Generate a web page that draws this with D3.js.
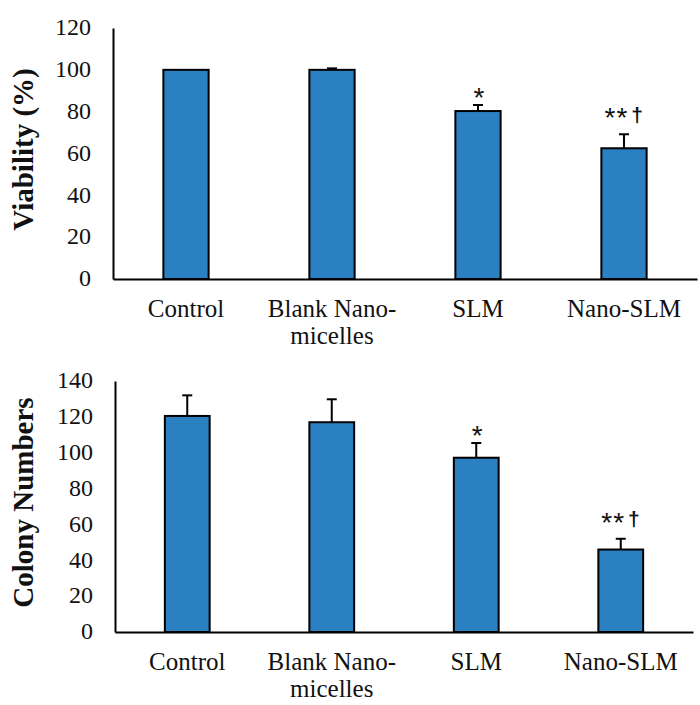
<!DOCTYPE html>
<html>
<head>
<meta charset="utf-8">
<script src="https://cdn.jsdelivr.net/npm/d3@7"></script>
<style>
  html, body { margin: 0; padding: 0; background: #fff; }
  svg { display: block; }
</style>
</head>
<body>
<svg id="chart" width="700" height="705"></svg>
<script>
// ---- data ----
const categories = ["Control", "Blank Nano-micelles", "SLM", "Nano-SLM"];
const tickLabelLines = [["Control"], ["Blank Nano-", "micelles"], ["SLM"], ["Nano-SLM"]];

const viabilityValues = [100, 100, 80.3, 62.5];
const viabilityErrors = [0, 0.7, 2.9, 6.7];
const viabilityMarks = ["", "", "*", "**†"];
const viabilityTicks = [0, 20, 40, 60, 80, 100, 120];

const colonyValues = [120.5, 117, 97.2, 46];
const colonyErrors = [11.5, 12.8, 8.2, 6];
const colonyMarks = ["", "", "*", "**†"];
const colonyTicks = [0, 20, 40, 60, 80, 100, 120, 140];

const panels = [
  { title: "Viability (%)", values: viabilityValues, errors: viabilityErrors, marks: viabilityMarks,
    ticks: viabilityTicks, max: 120, x0: 113, x1: 697, yTop: 28, yBottom: 279 },
  { title: "Colony Numbers", values: colonyValues, errors: colonyErrors, marks: colonyMarks,
    ticks: colonyTicks, max: 140, x0: 115, x1: 693, yTop: 381, yBottom: 632 }
];

const svg = d3.select("#chart");
const barColor = "#2a80c1";
const serif = "'Liberation Serif', 'Times New Roman', serif";
const sans = "'Liberation Sans', Arial, sans-serif";

panels.forEach(p => {
  const x = d3.scaleBand().domain(categories).range([p.x0, p.x1])
    .paddingInner(0.69).paddingOuter(0.345);
  const y = d3.scaleLinear().domain([0, p.max]).range([p.yBottom, p.yTop]);
  const g = svg.append("g");
  const cx = d => x(d) + x.bandwidth() / 2;
  const topOf = i => y(p.values[i] + p.errors[i]);

  // bars
  g.selectAll("rect.bar").data(categories).enter().append("rect")
    .attr("class", "bar")
    .attr("x", d => x(d))
    .attr("width", x.bandwidth())
    .attr("y", (d, i) => y(p.values[i]))
    .attr("height", (d, i) => y(0) - y(p.values[i]))
    .attr("fill", barColor)
    .attr("stroke", "#000")
    .attr("stroke-width", 2);

  // error bars (upper only)
  categories.forEach((d, i) => {
    if (!(p.errors[i] > 0)) return;
    g.append("line")
      .attr("x1", cx(d)).attr("x2", cx(d))
      .attr("y1", y(p.values[i])).attr("y2", topOf(i))
      .attr("stroke", "#000").attr("stroke-width", 2);
    g.append("line")
      .attr("x1", cx(d) - 5).attr("x2", cx(d) + 5)
      .attr("y1", topOf(i)).attr("y2", topOf(i))
      .attr("stroke", "#000").attr("stroke-width", 2);
  });

  // significance marks
  categories.forEach((d, i) => {
    const m = p.marks[i];
    if (!m) return;
    const chars = Array.from(m);
    const adv = chars.map(c => c === "†" ? 18 : 12);
    const total = d3.sum(adv);
    const hasDagger = m.includes("†");
    const base = topOf(i) + (hasDagger ? -7 : 2);
    let off = -total / 2 + 1;
    chars.forEach((c, k) => {
      const center = off + adv[k] / 2;
      off += adv[k];
      g.append("text")
        .attr("x", cx(d) + center)
        .attr("y", base + (c === "†" ? -5.5 : 0))
        .attr("text-anchor", "middle")
        .style("font-family", sans)
        .style("font-size", c === "†" ? "21px" : "28px")
        .style("font-weight", c === "†" ? "bold" : "normal")
        .attr("fill", "#111")
        .text(c);
    });
  });

  // y axis
  const yAxis = d3.axisLeft(y).tickValues(p.ticks).tickSize(0).tickSizeOuter(0).tickPadding(22);
  const ya = g.append("g").attr("transform", `translate(${p.x0},0)`).call(yAxis);
  ya.attr("font-family", null).attr("font-size", null);
  ya.select(".domain").attr("stroke", "#000").attr("stroke-width", 2);
  ya.selectAll("text")
    .style("font-family", serif).style("font-size", "24px").attr("fill", "#111")
    .attr("dy", "0.28em");

  // x axis
  const xAxis = d3.axisBottom(x).tickSize(0).tickSizeOuter(0).tickFormat(() => "");
  const xa = g.append("g").attr("transform", `translate(0,${p.yBottom})`).call(xAxis);
  xa.attr("font-family", null).attr("font-size", null);
  xa.select(".domain").attr("stroke", "#000").attr("stroke-width", 2);
  xa.selectAll(".tick").each(function(d, i) {
    const t = d3.select(this).select("text")
      .attr("y", 38).attr("dy", null)
      .style("font-family", serif).style("font-size", "25px").attr("fill", "#111");
    tickLabelLines[i].forEach((line, k) => {
      t.append("tspan").attr("x", 0).attr("y", 38 + k * 27).text(line);
    });
  });

  // y title
  g.append("text")
    .attr("transform", `translate(33,${(p.yTop + p.yBottom) / 2 - 4}) rotate(-90)`)
    .attr("text-anchor", "middle")
    .style("font-family", serif)
    .style("font-weight", "bold")
    .style("font-size", "29px")
    .attr("fill", "#111")
    .text(p.title);
});
</script>
</body>
</html>
